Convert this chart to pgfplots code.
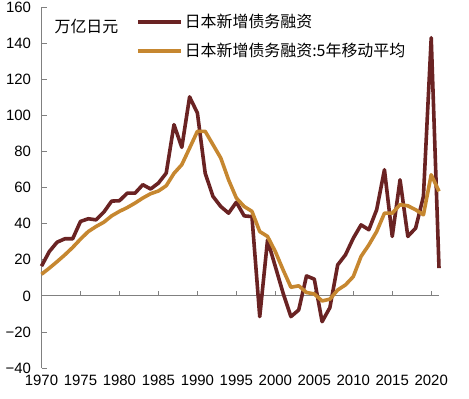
\documentclass[border=0pt]{standalone}
\usepackage{pgfplots}
\pgfplotsset{compat=1.18}
\usepackage{pgfplotstable}
\usepackage{fontspec}
\setmainfont{Liberation Sans}
\newfontfamily\cjk{Noto Sans CJK SC}
\definecolor{cred}{RGB}{106,35,35}
\definecolor{corange}{RGB}{198,135,48}
\pgfplotstableread{
year new ma
1970 16.5 12.0
1971 24.6 15.4
1972 29.8 19.0
1973 31.7 22.8
1974 31.7 26.9
1975 41.3 31.5
1976 42.8 35.7
1977 42.2 38.5
1978 46.5 40.9
1979 52.6 44.4
1980 52.8 46.9
1981 57.0 49.0
1982 57.0 51.5
1983 61.7 54.3
1984 59.3 56.7
1985 62.6 58.2
1986 68.1 61.1
1987 95.0 68.0
1988 82.4 72.8
1989 110.4 82.0
1990 101.5 91.3
1991 68.1 91.3
1992 55.2 83.9
1993 49.6 76.5
1994 45.9 64.4
1995 52.0 54.3
1996 44.4 49.6
1997 44.0 46.9
1998 -11.5 35.7
1999 31.0 33.0
2000 16.3 24.6
2001 1.5 14.4
2002 -11.5 4.8
2003 -7.8 5.6
2004 11.1 1.9
2005 9.3 1.1
2006 -14.3 -2.8
2007 -6.5 -1.8
2008 17.2 3.3
2009 22.8 6.1
2010 32.0 10.7
2011 39.4 21.9
2012 36.7 28.3
2013 47.8 35.7
2014 70.0 45.9
2015 33.0 45.9
2016 64.4 50.6
2017 33.0 50.0
2018 37.6 47.8
2019 55.2 45.0
2020 143.2 67.2
2021 15.4 58.0
}\datatable
\begin{document}
\begin{tikzpicture}[x=1bp,y=1bp]
\path[use as bounding box] (0,0) rectangle (469,398);
\begin{axis}[
  at={(41.5bp,30bp)}, anchor=south west,
  scale only axis, width=397.5bp, height=360.5bp,
  xmin=1970, xmax=2021, ymin=-40, ymax=160,
  axis x line*=middle, axis y line*=left,
  hide obscured x ticks=false, hide obscured y ticks=false,
  axis line style={draw=black!50, line width=0.9bp, -},
  xtick={1970,1975,...,2020},
  xticklabels={1970,1975,1980,1985,1990,1995,2000,2005,2010,2015,2020},
  ytick={-40,-20,...,160},
  yticklabels={−40,−20,0,20,40,60,80,100,120,140,160},
  tick align=inside,
  major tick length=5bp,
  tick style={black!50, line width=0.9bp},
  xticklabel style={yshift=-76bp},
  yticklabel style={xshift=-7bp},
  ticklabel style={font=\fontsize{15}{18}\selectfont},
  legend style={at={(0.2377,0.987)}, anchor=north west, draw=none, fill=none,
    inner sep=0pt, row sep=10bp, font=\cjk\fontsize{16}{19}\selectfont,
    cells={anchor=west}},
  legend image code/.code={\draw[#1] (0bp,0bp) -- (43bp,0bp);},
  clip=false,
]
\addplot[cred, line width=3.6bp, line join=round] table[x=year,y=new] {\datatable};
\addlegendentry{日本新增债务融资}
\addplot[corange, line width=3.6bp, line join=round] table[x=year,y=ma] {\datatable};
\addlegendentry{日本新增债务融资:5年移动平均}
\node[anchor=west, font=\cjk\fontsize{16}{19}\selectfont] at (rel axis cs:0.024,0.9487) {万亿日元};
\end{axis}
\end{tikzpicture}
\end{document}
